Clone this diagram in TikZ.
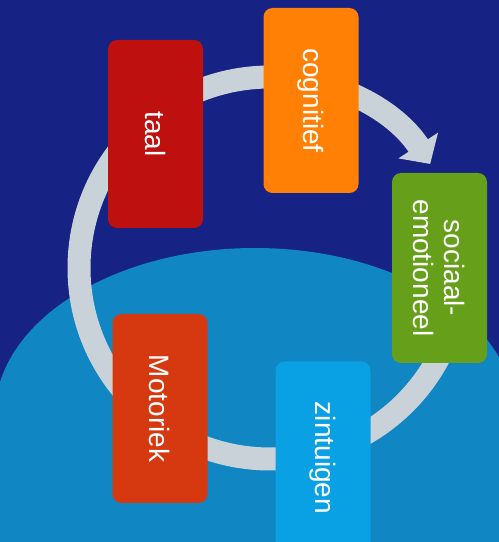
\documentclass[tikz,border=0pt]{standalone}
\usepackage{fontspec}
\setmainfont{Liberation Sans}
\usetikzlibrary{arrows.meta}

\definecolor{nachtblauw}{RGB}{22,34,132}
\definecolor{zeeblauw}{RGB}{16,134,194}
\definecolor{ringgrijs}{RGB}{200,210,216}
\definecolor{taalrood}{RGB}{190,16,14}
\definecolor{cognoranje}{RGB}{255,128,4}
\definecolor{sociaalgroen}{RGB}{102,160,26}
\definecolor{zintuigblauw}{RGB}{10,160,228}
\definecolor{motoriekrood}{RGB}{214,56,16}

\tikzset{
  blok/.style={rounded corners=9pt,rotate=-90,minimum width=188pt,minimum height=95pt,
    inner sep=0pt,text=white,align=center,font=\fontsize{28}{31}\selectfont},
  ringpijl/.style={color=ringgrijs,line width=23pt,-{Triangle[length=22pt,width=46pt]}}
}

\begin{document}
\begin{tikzpicture}[line cap=round,line join=round,x=1pt,y=1pt]
\useasboundingbox (0,0) rectangle (499,542);
\fill[nachtblauw] (0,0) rectangle (499,542);
\begin{scope}
\clip (0,0) rectangle (499,542);
% lichtblauwe ondergrond
\fill[zeeblauw] (-5,127) arc[start angle=180,end angle=0,x radius=260,y radius=167]
  -- (515,-10) -- (-5,-10) -- cycle;
\end{scope}
% de kringloop
\coordinate (midden) at (270,274);
\draw[ringpijl] (midden) ++(0:191) arc[start angle=0,end angle=-327,radius=191];
\node[blok,fill=taalrood] (taal) at (155.5,408) {taal};
\node[blok,fill=cognoranje,minimum width=185pt] (cognitief) at (311,441.5) {cognitief};
\node[blok,fill=sociaalgroen,minimum width=190pt] (sociaal) at (439.5,274) {sociaal-\\emotioneel};
\node[blok,fill=zintuigblauw,minimum width=193pt] (zintuigen) at (323,84) {zintuigen};
\node[blok,fill=motoriekrood,minimum width=189pt] (motoriek) at (160,133.5) {Motoriek};
\end{tikzpicture}
\end{document}
